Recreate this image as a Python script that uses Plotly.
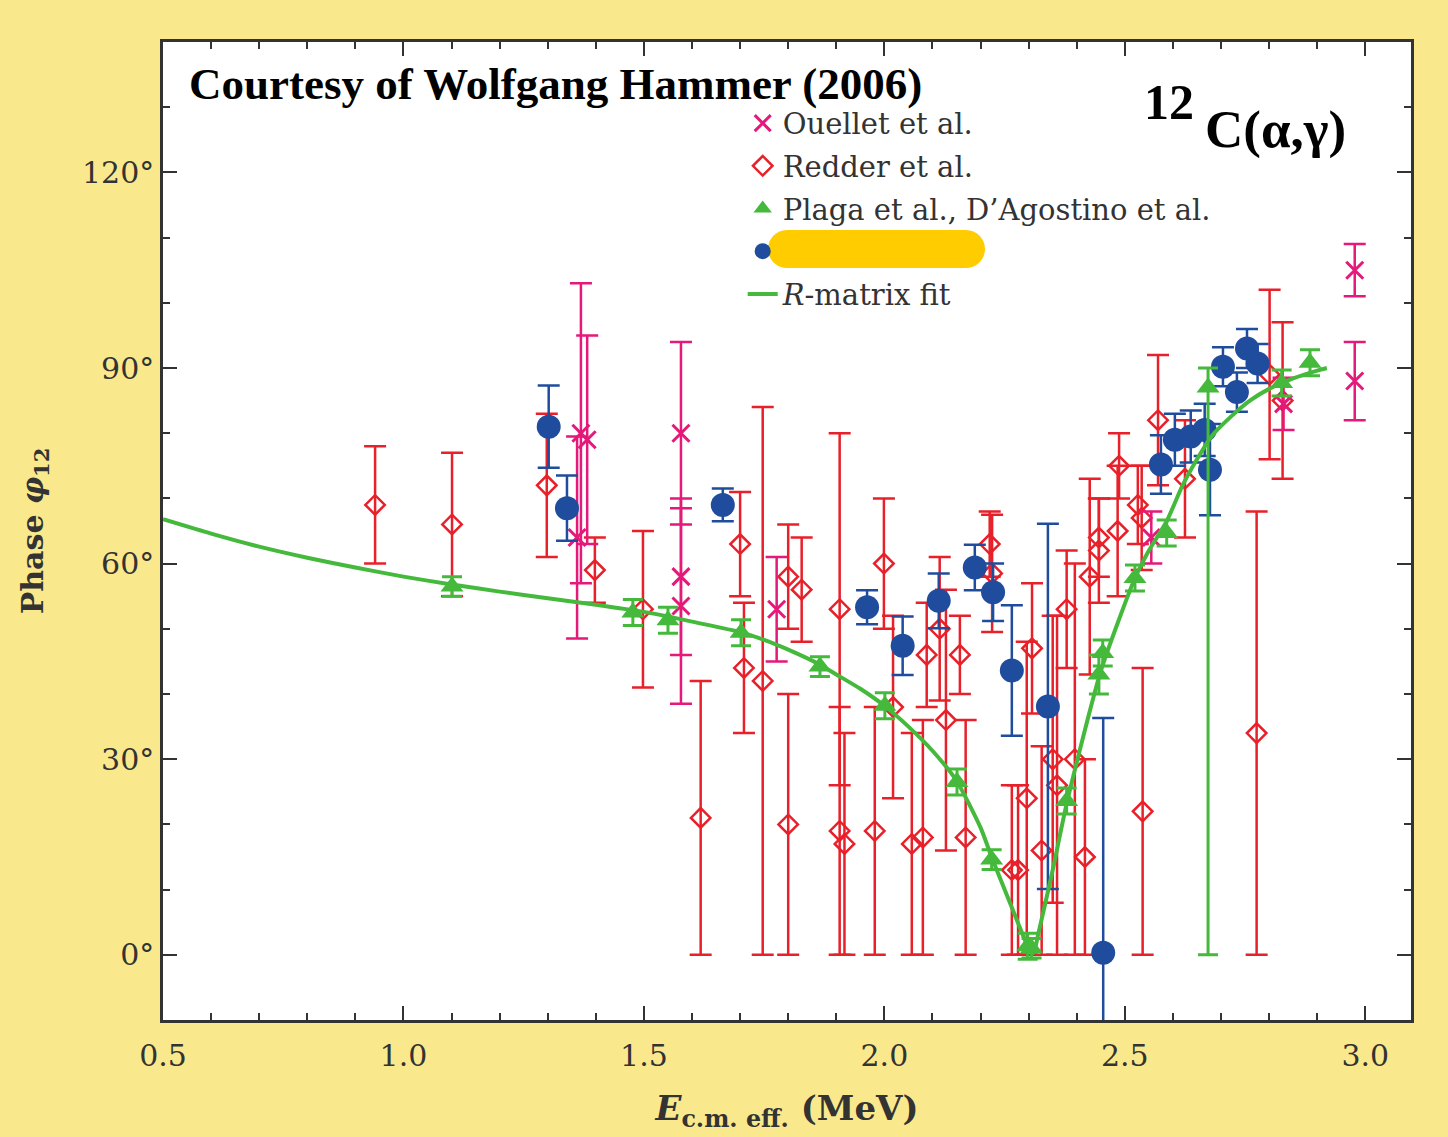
import plotly.graph_objects as go

# ---- Ouellet et al. ----
ouellet_e = [1.361, 1.369, 1.382, 1.577, 1.577, 1.577, 1.776, 2.555, 2.830, 2.978, 2.978]
ouellet_phi = [64, 80, 79, 80, 58, 53.5, 53, 64, 84.5, 105, 88]
ouellet_err = [15.5, 23, 16, 14, 12, 15, 8, 4, 4, 4, 6]

# ---- Redder et al. ----
redder_e = [0.941, 1.101, 1.298, 1.398, 1.498, 1.618, 1.700, 1.708, 1.747, 1.800,
            1.800, 1.828, 1.907, 1.907, 1.917, 1.980, 1.999, 2.018, 2.057, 2.080,
            2.088, 2.115, 2.128, 2.157, 2.169, 2.219, 2.224, 2.265, 2.278, 2.296,
            2.307, 2.327, 2.350, 2.359, 2.379, 2.396, 2.417, 2.427, 2.446, 2.446,
            2.485, 2.488, 2.527, 2.535, 2.537, 2.569, 2.625, 2.774, 2.801, 2.828]
redder_phi = [69, 66, 72, 59, 53, 21, 63, 44, 42, 58,
              20, 56, 53, 19, 17, 19, 60, 38, 17, 18,
              46, 50, 36, 46, 18, 63, 58.5, 13, 13, 24,
              47, 16, 30, 26, 53, 30, 15, 58, 64, 62,
              65, 75, 69, 67, 22, 82, 73, 34, 89, 85]
redder_err = [9, 11, 11, 5, 12, 21, 8, 10, 42, 8,
              20, 8, 27, 19, 17, 19, 10, 14, 17, 18,
              8, 11, 20, 6, 18, 5, 9, 13, 13, 24,
              10, 16, 22, 26, 9, 30, 15, 15, 6, 8,
              10, 5, 6, 8, 22, 10, 9, 34, 13, 12]

# ---- Plaga et al., D'Agostino et al. ----
plaga_e = [1.101, 1.477, 1.550, 1.702, 1.866, 2.001, 2.151, 2.223, 2.298, 2.306,
           2.379, 2.446, 2.454, 2.521, 2.587, 2.673, 2.826, 2.885]
plaga_phi = [56.5, 52.5, 51.3, 49.4, 44.2, 38.2, 26.5, 14.6, 1.3, 1.0,
             23.6, 43, 46.3, 57.8, 64.7, 87, 87.7, 90.8]
plaga_err_plus = [1.5, 2, 2, 2, 1.5, 2, 2, 1.5, 2, 1.5,
                  2, 3, 2, 2, 2, 3, 2, 2]
plaga_err_minus = [1.5, 2, 2, 2, 1.5, 2, 2, 1.5, 2, 1.5,
                   2, 3, 2, 2, 2, 87, 2, 2]

# ---- fourth data set (filled circles) ----
circ_e = [1.302, 1.340, 1.664, 1.964, 2.038, 2.113, 2.188, 2.226, 2.265, 2.340,
          2.455, 2.575, 2.604, 2.637, 2.666, 2.677, 2.704, 2.733, 2.754, 2.776]
circ_phi = [81, 68.5, 69, 53.3, 47.4, 54.3, 59.4, 55.6, 43.6, 38.1,
            0.3, 75.2, 79, 79.5, 80.5, 74.4, 90.2, 86.3, 93.0, 90.7]
circ_err = [6.3, 5, 2.5, 2.6, 4.5, 4.2, 3.5, 4.4, 10, 28,
            36, 4.5, 4, 4, 4, 7, 3, 3, 3, 3]

# ---- R-matrix fit ----
fit_e = [0.50, 0.60, 0.70, 0.80, 0.90, 1.00, 1.10, 1.20, 1.30, 1.40, 1.50, 1.55,
         1.60, 1.70, 1.75, 1.80, 1.866, 1.90, 1.95, 2.00, 2.05, 2.10, 2.15, 2.20,
         2.223, 2.25, 2.28, 2.30, 2.31, 2.32, 2.35, 2.38, 2.45, 2.52, 2.55, 2.587,
         2.62, 2.65, 2.68, 2.72, 2.76, 2.80, 2.85, 2.90, 2.92]
fit_phi = [66.8, 64.6, 62.6, 60.9, 59.4, 58.0, 56.8, 55.7, 54.7, 53.7, 52.6, 51.9,
           51.1, 49.5, 48.3, 46.8, 44.5, 43.0, 40.8, 38.2, 35.0, 31.3, 26.7, 19.5,
           15.0, 10.0, 4.5, 1.0, 0.3, 3.2, 13.0, 23.5, 43.5, 57.6, 62.0, 66.5,
           72.0, 76.0, 79.5, 82.5, 85.0, 86.8, 88.4, 89.6, 90.0]

PINK = "#E5197A"
RED = "#E8202A"
GREEN = "#45B93C"
BLUE = "#1F4C9C"
AXIS = "#333333"
SERIF = "DejaVu Serif"

fig = go.Figure()

fig.add_trace(go.Scatter(
    x=redder_e, y=redder_phi, mode="markers", name="Redder et al.",
    legendgroup="b", legendrank=2,
    marker=dict(symbol="diamond-open", size=15, color=RED, line=dict(width=2.5, color=RED)),
    error_y=dict(type="data", array=redder_err, color=RED, thickness=2.5, width=11),
))
fig.add_trace(go.Scatter(
    x=ouellet_e, y=ouellet_phi, mode="markers", name="Ouellet et al.",
    legendgroup="a", legendrank=1,
    marker=dict(symbol="x-thin", size=17, color=PINK, line=dict(width=3, color=PINK)),
    error_y=dict(type="data", array=ouellet_err, color=PINK, thickness=2.5, width=11),
))
fig.add_trace(go.Scatter(
    x=circ_e, y=circ_phi, mode="markers", name=" ",
    legendgroup="d", legendrank=4,
    marker=dict(symbol="circle", size=24, color=BLUE),
    error_y=dict(type="data", array=circ_err, color=BLUE, thickness=2.5, width=11),
))
fig.add_trace(go.Scatter(
    x=plaga_e, y=plaga_phi, mode="markers", name="Plaga et al., D\u2019Agostino et al.",
    legendgroup="c", legendrank=3,
    marker=dict(symbol="triangle-up", size=20, color=GREEN),
    error_y=dict(type="data", symmetric=False, array=plaga_err_plus,
                 arrayminus=plaga_err_minus, color=GREEN, thickness=3, width=10),
))
fig.add_trace(go.Scatter(
    x=fit_e, y=fit_phi, mode="lines", name="<i>R</i>-matrix fit",
    legendgroup="e", legendrank=5,
    line=dict(color=GREEN, width=4, shape="spline", smoothing=0.6),
))

# rounded yellow tag over the fourth legend entry (pixel-sized pill)
hw, hh = 89.5, 19.0
k = 0.5523 * hh
pill = (f"M {-hw},{-hh} L {hw},{-hh} "
        f"C {hw + k},{-hh} {hw + hh},{-k} {hw + hh},0 "
        f"C {hw + hh},{k} {hw + k},{hh} {hw},{hh} "
        f"L {-hw},{hh} "
        f"C {-hw - k},{hh} {-hw - hh},{k} {-hw - hh},0 "
        f"C {-hw - hh},{-k} {-hw - k},{-hh} {-hw},{-hh} Z")
fig.add_shape(type="path", path=pill, xref="paper", yref="paper",
              xsizemode="pixel", ysizemode="pixel",
              xanchor=0.5717, yanchor=0.7883,
              fillcolor="#FFCC00", line=dict(width=0), layer="above")

fig.add_annotation(text="<b>Courtesy of Wolfgang Hammer (2006)</b>",
                   xref="paper", yref="paper", x=0.0192, y=0.985,
                   xanchor="left", yanchor="top", showarrow=False,
                   font=dict(family="Liberation Serif", size=45, color="black"))
fig.add_annotation(text="<b>12</b>", xref="paper", yref="paper",
                   x=0.8058, y=0.9386, xanchor="center", yanchor="middle",
                   showarrow=False,
                   font=dict(family="Liberation Serif", size=50, color="black"))
fig.add_annotation(text="<b>C(\u03b1,\u03b3)</b>", xref="paper", yref="paper",
                   x=0.8918, y=0.911, xanchor="center", yanchor="middle",
                   showarrow=False,
                   font=dict(family="Liberation Serif", size=53, color="black"))

fig.update_layout(
    width=1448, height=1137,
    margin=dict(l=163, r=37, t=42, b=117),
    paper_bgcolor="#FAE98C",
    plot_bgcolor="white",
    showlegend=True,
    legend=dict(x=0.4645, y=0.943, xanchor="left", yanchor="top",
                bgcolor="rgba(0,0,0,0)", tracegroupgap=2,
                font=dict(family=SERIF, size=29, color=AXIS),
                itemwidth=30),
    xaxis=dict(
        range=[0.5, 3.095], tick0=0.5, dtick=0.5, tickformat=".1f",
        ticks="inside", ticklen=14, tickwidth=2, tickcolor=AXIS,
        minor=dict(dtick=0.1, ticks="inside", ticklen=7, tickwidth=2, tickcolor=AXIS),
        showline=True, linecolor=AXIS, linewidth=2.5, mirror="allticks",
        showgrid=False, zeroline=False, ticklabelstandoff=7,
        tickfont=dict(family=SERIF, size=30, color=AXIS),
        title=dict(text="<b><i>E</i><sub>c.m. eff.</sub> (MeV)</b>",
                   font=dict(family=SERIF, size=34, color=AXIS), standoff=25),
    ),
    yaxis=dict(
        range=[-10, 140], tick0=0, dtick=30, ticksuffix="\u00b0",
        ticks="inside", ticklen=14, tickwidth=2, tickcolor=AXIS,
        minor=dict(dtick=10, ticks="inside", ticklen=7, tickwidth=2, tickcolor=AXIS),
        showline=True, linecolor=AXIS, linewidth=2.5, mirror="allticks",
        showgrid=False, zeroline=False,
        tickfont=dict(family=SERIF, size=30, color=AXIS),
        title=dict(text="<b>Phase <i>\u03c6</i><sub>12</sub></b>",
                   font=dict(family=SERIF, size=30, color=AXIS), standoff=30),
    ),
)

fig.write_html("out.html")
